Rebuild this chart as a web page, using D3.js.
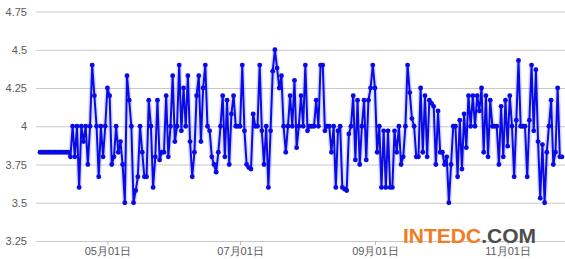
<!DOCTYPE html>
<html>
<head>
<meta charset="utf-8">
<script src="https://cdn.jsdelivr.net/npm/d3@7"></script>
<style>
  body { margin: 0; background: #fff; }
  svg { display: block; }
  .grid line { stroke: #c8c8c8; }
  .grid path { display: none; }
  .axis text { fill: #5a5a5a; font-family: "Liberation Sans", Arial, sans-serif; font-size: 11px; }
  .xaxis line { stroke: #b8b8b8; }
  .xaxis path { display: none; }
</style>
</head>
<body>
<svg id="chart" width="565" height="259"></svg>
<script>
// daily values, one array per month
const startDay = "2012-03-31";
const marValues = [3.83];
const aprValues = [3.83, 3.83, 3.83, 3.83, 3.83, 3.83, 3.83, 3.83, 3.83, 3.83, 3.83, 3.83, 3.83,
    3.8, 4.0, 3.8, 4.0, 3.6, 4.0, 3.9, 4.0, 3.75, 4.0, 4.4, 4.2, 4.0, 3.67, 4.0, 3.8, 4.0];
const mayValues = [4.25, 4.2, 3.75, 3.8, 4.0, 3.83, 3.9, 3.75, 3.5, 4.33,
    4.17, 4.0, 3.5, 3.58, 3.67, 4.0, 3.83, 3.67, 3.67, 4.17, 4.0, 3.6, 3.8, 4.17, 3.78, 3.83, 3.83, 4.2, 3.8, 4.0, 4.33];
const junValues = [3.9, 4.0, 4.4, 3.97, 4.25, 4.0, 4.33, 3.9, 3.67, 3.83, 4.2, 4.33, 3.9, 4.25, 4.4, 4.0, 3.97, 3.8,
    3.75, 3.7, 3.83, 4.0, 4.2, 3.8, 4.17, 3.75, 4.08, 4.2, 4.0, 4.0];
const julValues = [4.0, 4.4, 3.97, 3.75, 3.73, 3.72, 4.08, 4.0, 4.0, 4.4, 3.97, 3.75, 4.0, 3.6, 3.97, 4.36, 4.5, 4.38,
    4.25, 4.33, 4.0, 3.83, 4.0, 4.2, 4.0, 4.3, 3.86, 4.0, 4.2, 4.0, 4.4];
const augValues = [3.97, 4.0, 4.0, 4.0, 4.17, 4.0, 4.4, 4.4, 3.97, 4.0, 4.0, 3.83, 4.0, 3.6, 3.97, 4.0, 3.6, 3.59,
    3.58, 3.95, 4.0, 4.2, 3.78, 4.17, 3.75, 4.0, 4.17, 3.78, 4.17, 4.25, 4.4];
const sepValues = [4.25, 3.83, 4.0, 3.6, 3.97, 3.6, 3.97, 3.6,
    3.6, 3.97, 3.83, 4.0, 3.75, 3.8, 4.0, 4.4, 4.22, 4.05, 4.0, 3.8, 3.8, 4.25, 3.83, 4.2, 3.8, 4.17, 4.15, 4.13, 3.75, 4.1];
const octValues = [3.83, 3.83, 3.75, 3.8, 3.5, 3.75, 4.0, 4.0, 3.67, 4.04, 3.72, 4.08, 3.86, 4.2, 4.0, 4.2, 4.0, 4.2,
    4.1, 4.25, 3.83, 4.2, 3.8, 4.17, 4.0, 4.0, 4.0, 3.75, 4.13, 3.8, 4.17];
const novValues = [3.87, 4.2, 4.0, 3.67, 4.04, 4.43, 4.0, 4.0, 4.0, 3.67, 4.04, 4.4, 3.97, 4.37, 3.9, 3.53, 3.88,
    3.5, 3.83, 4.0, 4.17, 3.75, 3.83, 4.25, 3.8, 3.8];

const yTicks = [3.25, 3.5, 3.75, 4, 4.25, 4.5, 4.75];
const xTicks = ["2012-05-01", "2012-07-01", "2012-09-01", "2012-11-01"];

const parse = d3.timeParse("%Y-%m-%d");
const allValues = [].concat(marValues, aprValues, mayValues, junValues, julValues,
    augValues, sepValues, octValues, novValues);
const day0 = parse(startDay);
const data = allValues.map((v, i) => ({ date: d3.timeDay.offset(day0, i), value: v }));

const svg = d3.select("#chart");
const plot = { left: 36, right: 565, top: 11.5, bottom: 241 };

const x = d3.scaleTime()
    .domain(d3.extent(data, d => d.date))
    .range([40, 562]);
const y = d3.scaleLinear()
    .domain([3.25, 4.75])
    .range([plot.bottom, plot.top]);

// grid + y labels
svg.append("g")
    .attr("class", "grid axis")
    .attr("transform", "translate(" + plot.left + ",0)")
    .call(d3.axisLeft(y)
        .tickValues(yTicks)
        .tickFormat(d3.format("~g"))
        .tickSize(-(plot.right - plot.left))
        .tickPadding(9));

// x ticks + labels
svg.append("g")
    .attr("class", "xaxis axis")
    .attr("transform", "translate(0," + plot.bottom + ")")
    .call(d3.axisBottom(x)
        .tickValues(xTicks.map(parse))
        .tickFormat(d3.timeFormat("%m月%d日"))
        .tickSize(4)
        .tickPadding(2));

const line = d3.line().x(d => x(d.date)).y(d => y(d.value));

// soft halo under the line
svg.append("path")
    .datum(data)
    .attr("d", line)
    .attr("fill", "none")
    .attr("stroke", "rgba(40,60,255,0.18)")
    .attr("stroke-width", 5)
    .attr("stroke-linejoin", "round");

svg.append("path")
    .datum(data)
    .attr("d", line)
    .attr("fill", "none")
    .attr("stroke", "#0a0ae6")
    .attr("stroke-width", 2)
    .attr("stroke-linejoin", "round");

svg.append("g")
    .selectAll("circle")
    .data(data)
    .join("circle")
    .attr("cx", d => x(d.date))
    .attr("cy", d => y(d.value))
    .attr("r", 2.4)
    .attr("fill", "#0a0ae6");

// watermark
const mark = svg.append("text")
    .attr("x", 403)
    .attr("y", 243)
    .style("font-family", "'Liberation Sans', Arial, sans-serif")
    .style("font-size", "21px")
    .style("font-weight", "bold");
mark.append("tspan").attr("fill", "#f47b20").text("INTEDC");
mark.append("tspan").attr("fill", "#4d4d4d").text(".COM");
</script>
</body>
</html>
